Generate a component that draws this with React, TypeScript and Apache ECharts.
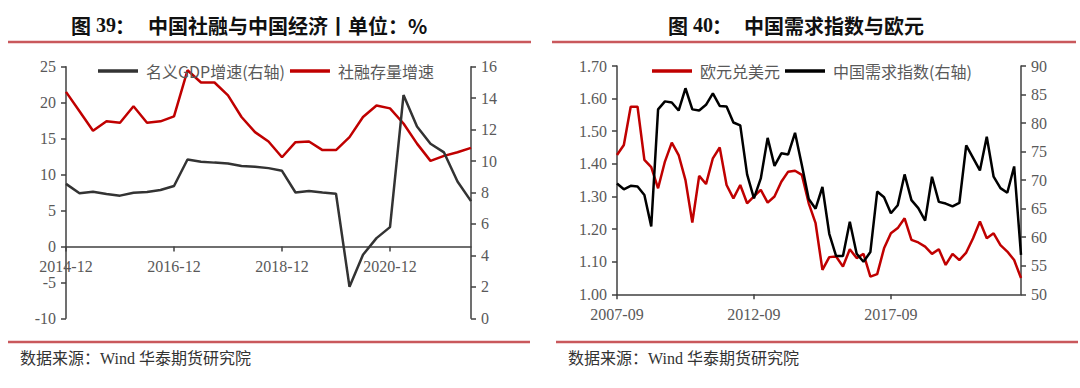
import React, { useEffect, useRef } from "react";
import * as echarts from "echarts";

// ---- Left chart (图 39) ----
const quartersLeft: string[] = [];
for (let y = 2014; y <= 2022; y++) {
  for (const m of ["03", "06", "09", "12"]) {
    const k = `${y}-${m}`;
    if (k >= "2014-12" && k <= "2022-06") quartersLeft.push(k);
  }
}
const gdpGrowth = [
  8.55, 7.95, 8.05, 7.9, 7.8, 7.99, 8.03, 8.16, 8.41, 10.1, 9.96, 9.9, 9.85, 9.68, 9.63, 9.55,
  9.38, 8.0, 8.09, 8.0, 7.92, 2.0, 4.04, 5.1, 5.8, 14.2, 12.2, 11.1, 10.55, 8.7, 7.45,
];
const tsfGrowth = [
  21.5, 18.8, 16.1, 17.4, 17.2, 19.5, 17.2, 17.4, 18.1, 24.5, 22.8, 22.8, 21.0, 18.0, 15.9, 14.6,
  12.4, 14.5, 14.6, 13.4, 13.4, 15.2, 18.0, 19.6, 19.2, 17.1, 14.3, 11.9, 12.6, 13.1, 13.7,
];
const leftAxisMin = -10;
const leftAxisMax = 25;

// ---- Right chart (图 40) ----
const quartersRight: string[] = [];
for (let y = 2007; y <= 2022; y++) {
  for (const m of ["03", "06", "09", "12"]) {
    const k = `${y}-${m}`;
    if (k >= "2007-09" && k <= "2022-06") quartersRight.push(k);
  }
}
const eurUsd = [
  1.427, 1.458, 1.575, 1.575, 1.412, 1.39, 1.325, 1.407, 1.465, 1.427,
  1.35, 1.22, 1.363, 1.338, 1.417, 1.45, 1.335, 1.294, 1.335, 1.279,
  1.3, 1.32, 1.281, 1.3, 1.345, 1.376, 1.379, 1.366, 1.279, 1.218,
  1.075, 1.114, 1.116, 1.085, 1.138, 1.111, 1.124, 1.054, 1.062, 1.141,
  1.187, 1.203, 1.233, 1.167, 1.159, 1.146, 1.124, 1.138, 1.09, 1.124,
  1.105, 1.128, 1.172, 1.223, 1.172, 1.187, 1.151, 1.131, 1.105, 1.05,
];
const demandIndex = [
  69.4, 68.4, 69.0, 68.9, 67.4, 61.9, 82.4, 83.8, 83.6, 82.2,
  86.1, 82.4, 82.2, 83.2, 85.2, 83.0, 82.9, 80.1, 79.6, 71.0,
  66.8, 70.3, 77.4, 72.5, 74.7, 74.5, 78.3, 72.6, 66.7, 65.0,
  68.8, 60.6, 56.7, 56.7, 62.7, 57.1, 55.7, 57.4, 68.0, 67.0,
  64.2, 65.6, 71.0, 66.5, 65.1, 62.9, 70.6, 66.2, 65.9, 65.4,
  66.0, 76.1, 73.9, 71.7, 77.6, 70.6, 68.6, 67.8, 72.4, 56.9,
];

const SERIF = "'Liberation Serif', 'Times New Roman', serif";
const CJK = "'Noto Sans CJK SC', sans-serif";
const AXIS_COLOR = "#404040";
const LABEL_COLOR = "#595959";
const RED = "#c00000";

function axisLabel(extra: any = {}) {
  return { fontSize: 16, fontFamily: SERIF, color: LABEL_COLOR, ...extra };
}
const axisLineStyle = { color: AXIS_COLOR, width: 1.5 };

function titleGroup(x: number, num: string, text: string, textX: number) {
  const base = { fontSize: 20, fontWeight: "bold", fill: "#111", textVerticalAlign: "middle" };
  return [
    { type: "text", x, y: 25, style: { ...base, text: "图", fontFamily: CJK } },
    { type: "text", x: x + 25, y: 25, style: { ...base, text: num, fontFamily: SERIF } },
    { type: "text", x: x + 44, y: 25, style: { ...base, text: "：", fontFamily: CJK } },
    { type: "text", x: textX, y: 25, style: { ...base, text, fontFamily: CJK } },
  ];
}
function redLine(x1: number, x2: number, y: number) {
  return { type: "line", shape: { x1, y1: y, x2, y2: y }, style: { stroke: "#c9585c", lineWidth: 2.5 } };
}
function footer(x: number) {
  return {
    type: "text",
    x,
    y: 358,
    style: {
      text: "数据来源：Wind 华泰期货研究院",
      fontSize: 16,
      fontFamily: `'Liberation Serif', 'Noto Sans CJK SC', serif`,
      fill: "#333",
      textVerticalAlign: "middle",
    },
  };
}

export default function App() {
  const ref = useRef<HTMLDivElement>(null);
  useEffect(() => {
    document.body.style.margin = "0";
    if (!ref.current) return;
    const chart = echarts.init(ref.current, undefined, { renderer: "svg" });
    const legendCommon = {
      icon: "rect",
      padding: 0,
      itemWidth: 40,
      itemHeight: 3.5,
      itemGap: 5,
      textStyle: { fontSize: 16, fontFamily: CJK, color: LABEL_COLOR, padding: [0, 0, 0, 3] },
    };
    const leftGridHeight = 251.6;
    const zeroOffset = -(leftGridHeight * (0 - leftAxisMin)) / (leftAxisMax - leftAxisMin);
    chart.setOption({
      animation: false,
      backgroundColor: "#fff",
      grid: [
        { left: 66, top: 66.7, width: 405, height: leftGridHeight },
        { left: 617, top: 66, width: 404, height: 228.3 },
      ],
      legend: [
        { ...legendCommon, left: 98, top: 63, data: ["名义GDP增速(右轴)", "社融存量增速"] },
        { ...legendCommon, left: 652, top: 63, data: ["欧元兑美元", "中国需求指数(右轴)"] },
      ],
      xAxis: [
        {
          gridIndex: 0,
          type: "category",
          data: quartersLeft,
          boundaryGap: false,
          position: "bottom",
          offset: zeroOffset,
          axisLine: { show: true, onZero: false, lineStyle: axisLineStyle },
          axisTick: { show: true, interval: 7, length: 5, lineStyle: axisLineStyle },
          axisLabel: axisLabel({ interval: 7, margin: 12 }),
          splitLine: { show: false },
        },
        {
          gridIndex: 1,
          type: "category",
          data: quartersRight,
          boundaryGap: false,
          axisLine: { show: true, onZero: false, lineStyle: axisLineStyle },
          axisTick: { show: true, interval: 19, length: 5, lineStyle: axisLineStyle },
          axisLabel: axisLabel({ interval: 19, margin: 12 }),
          splitLine: { show: false },
        },
      ],
      yAxis: [
        {
          gridIndex: 0,
          type: "value",
          position: "left",
          min: leftAxisMin,
          max: leftAxisMax,
          interval: 5,
          axisLine: { show: true, onZero: false, lineStyle: axisLineStyle },
          axisTick: { show: true, length: 5, lineStyle: axisLineStyle },
          axisLabel: axisLabel({ margin: 10 }),
          splitLine: { show: false },
        },
        {
          gridIndex: 0,
          type: "value",
          position: "right",
          min: 0,
          max: 16,
          interval: 2,
          axisLine: { show: true, onZero: false, lineStyle: axisLineStyle },
          axisTick: { show: true, length: 5, lineStyle: axisLineStyle },
          axisLabel: axisLabel({ margin: 10 }),
          splitLine: { show: false },
        },
        {
          gridIndex: 1,
          type: "value",
          position: "left",
          min: 1.0,
          max: 1.7,
          interval: 0.1,
          axisLine: { show: true, onZero: false, lineStyle: axisLineStyle },
          axisTick: { show: true, length: 5, lineStyle: axisLineStyle },
          axisLabel: axisLabel({ margin: 10, formatter: (v: number) => v.toFixed(2) }),
          splitLine: { show: false },
        },
        {
          gridIndex: 1,
          type: "value",
          position: "right",
          min: 50,
          max: 90,
          interval: 5,
          axisLine: { show: true, onZero: false, lineStyle: axisLineStyle },
          axisTick: { show: true, length: 5, lineStyle: axisLineStyle },
          axisLabel: axisLabel({ margin: 10 }),
          splitLine: { show: false },
        },
      ],
      series: [
        {
          name: "社融存量增速",
          type: "line",
          xAxisIndex: 0,
          yAxisIndex: 0,
          data: tsfGrowth,
          symbol: "none",
          color: RED,
          lineStyle: { color: RED, width: 2.5 },
        },
        {
          name: "名义GDP增速(右轴)",
          type: "line",
          xAxisIndex: 0,
          yAxisIndex: 1,
          data: gdpGrowth,
          symbol: "none",
          color: "#333333",
          lineStyle: { color: "#333333", width: 2.5 },
        },
        {
          name: "欧元兑美元",
          type: "line",
          xAxisIndex: 1,
          yAxisIndex: 2,
          data: eurUsd,
          symbol: "none",
          color: RED,
          lineStyle: { color: RED, width: 2.5 },
        },
        {
          name: "中国需求指数(右轴)",
          type: "line",
          xAxisIndex: 1,
          yAxisIndex: 3,
          data: demandIndex,
          symbol: "none",
          color: "#000000",
          lineStyle: { color: "#000000", width: 2.5 },
        },
      ],
      graphic: [
        ...titleGroup(71, "39", "中国社融与中国经济丨单位：%", 148),
        ...titleGroup(668, "40", "中国需求指数与欧元", 744),
        redLine(8, 531, 42),
        redLine(552, 1076, 42),
        redLine(8, 530, 342),
        redLine(556, 1078, 342),
        footer(20),
        footer(568),
      ],
    });
    return () => chart.dispose();
  }, []);
  return (
    <div
      ref={ref}
      style={{ position: "absolute", left: 0, top: 0, width: 1080, height: 388, background: "#fff" }}
    />
  );
}
